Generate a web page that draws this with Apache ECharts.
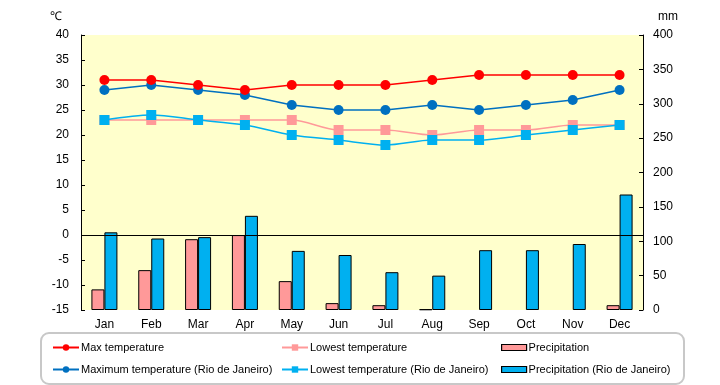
<!DOCTYPE html>
<html><head><meta charset="utf-8">
<script src="https://cdn.jsdelivr.net/npm/echarts@6/dist/echarts.min.js"></script>
<style>html,body{margin:0;padding:0;background:#fff}#c{width:720px;height:385px}</style>
</head><body><div id="c"></div>
<script>
const months = ['Jan','Feb','Mar','Apr','May','Jun','Jul','Aug','Sep','Oct','Nov','Dec'];
const maxTemp = [31,31,30,29,30,30,30,31,32,32,32,32];
const lowTemp = [23,23,23,23,23,21,21,20,21,21,22,22];
const precip = [30,58,103,109,42,10,7,1,0,0,0,7];
const rioMax = [29,30,29,28,26,25,25,26,25,26,27,29];
const rioLow = [23,24,23,22,20,19,18,19,19,20,21,22];
const rioPrecip = [113,104,106,137,86,80,55,50,87,87,96,168];
const tempTicks = [-15,40,5];
const mmTicks = [0,400,50];

const FONT = '"Liberation Sans",Arial,sans-serif';
const chart = echarts.init(document.getElementById('c'));
const names = ['Max temperature','Lowest temperature','Precipitation',
  'Maximum temperature (Rio de Janeiro)','Lowest temperature (Rio de Janeiro)','Precipitation (Rio de Janeiro)'];
const legendPos = [[52,342],[281,342],[501,342],[52,364],[281,364],[501,364]];
const legends = names.map((n,i)=>{
  const isBar = i%3===2;
  const l = {
    data:[n], left:legendPos[i][0], top:legendPos[i][1],
    itemWidth:isBar?25:26, itemHeight:isBar?6:8, itemGap:2,
    selectedMode:false, padding:0,
    textStyle:{fontFamily:FONT,fontSize:11,color:'#000',padding:[0,0,0,-3]}
  };
  if (isBar) { l.icon = 'rect'; l.itemStyle = {borderWidth:1.2,borderColor:'#000'}; }
  return l;
});
const noZero = a => a.map(v => v === 0 ? '-' : v);
chart.setOption({
  animation:false,
  backgroundColor:'#fff',
  grid:{left:81,right:77,top:35,bottom:75,show:true,backgroundColor:'#FFFFCC',borderWidth:0},
  graphic:[{type:'rect',shape:{x:41,y:333,width:643,height:51,r:8},style:{fill:'none',stroke:'#c8c8c8',lineWidth:2},z:0}],
  legend:legends,
  xAxis:{type:'category',data:months,axisLine:{show:false},axisTick:{show:false},
    axisLabel:{fontFamily:FONT,fontSize:12,color:'#000',margin:9}},
  yAxis:[
    {type:'value',min:tempTicks[0],max:tempTicks[1],interval:tempTicks[2],name:'℃',
     nameTextStyle:{fontFamily:FONT,fontSize:12,color:'#000',padding:[0,50,0,0]},nameGap:12,
     axisLine:{show:true,lineStyle:{color:'#000'}},axisTick:{show:true,inside:true,length:4,lineStyle:{color:'#000'}},
     splitLine:{show:false},axisLabel:{fontFamily:FONT,fontSize:12,color:'#000',margin:12}},
    {type:'value',min:mmTicks[0],max:mmTicks[1],interval:mmTicks[2],name:'mm',position:'right',
     nameTextStyle:{fontFamily:FONT,fontSize:12,color:'#000',padding:[0,0,0,50]},nameGap:12,
     axisLine:{show:true,lineStyle:{color:'#000'}},axisTick:{show:true,inside:true,length:4,lineStyle:{color:'#000'}},
     splitLine:{show:false},axisLabel:{fontFamily:FONT,fontSize:12,color:'#000',margin:10}}
  ],
  series:[
    {name:'Precipitation',type:'bar',yAxisIndex:1,data:noZero(precip),barWidth:13,barGap:'0%',
     itemStyle:{color:'#FF9999',borderColor:'#000',borderWidth:1}},
    {name:'Precipitation (Rio de Janeiro)',type:'bar',yAxisIndex:1,data:noZero(rioPrecip),barWidth:13,barGap:'0%',
     itemStyle:{color:'#00B0F0',borderColor:'#000',borderWidth:1}},
    {name:'Lowest temperature',type:'line',data:lowTemp,symbol:'rect',symbolSize:10,smooth:0.3,z:3,
     itemStyle:{color:'#FF9999'},lineStyle:{color:'#FF9999',width:1.5}},
    {name:'Lowest temperature (Rio de Janeiro)',type:'line',data:rioLow,symbol:'rect',symbolSize:10,smooth:0.3,z:4,
     itemStyle:{color:'#00B0F0'},lineStyle:{color:'#00B0F0',width:1.5}},
    {name:'Maximum temperature (Rio de Janeiro)',type:'line',data:rioMax,symbol:'circle',symbolSize:10,z:5,
     itemStyle:{color:'#0070C0'},lineStyle:{color:'#0070C0',width:1.5}},
    {name:'Max temperature',type:'line',data:maxTemp,symbol:'circle',symbolSize:10,z:6,
     itemStyle:{color:'#FF0000'},lineStyle:{color:'#FF0000',width:1.5},
     markLine:{silent:true,symbol:'none',label:{show:false},data:[{yAxis:0}],
       lineStyle:{color:'#000',width:1,type:'solid'}}}
  ]
});
</script></body></html>
